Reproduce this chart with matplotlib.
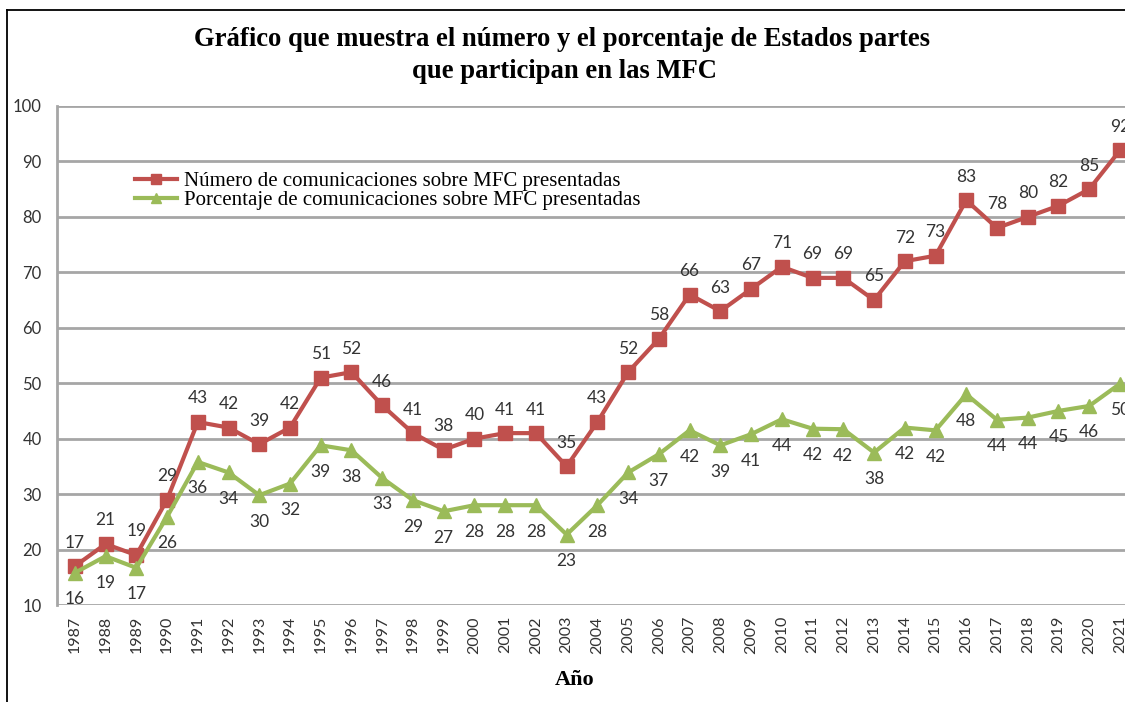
import matplotlib.pyplot as plt
import numpy as np
from matplotlib.lines import Line2D

years = list(range(1987, 2022))
numero = [17, 21, 19, 29, 43, 42, 39, 42, 51, 52, 46, 41, 38, 40, 41, 41, 35, 43, 52, 58,
          66, 63, 67, 71, 69, 69, 65, 72, 73, 83, 78, 80, 82, 85, 92]
porcentaje = [15.8, 18.8, 16.7, 25.9, 35.8, 33.9, 29.8, 31.9, 38.8, 37.9, 32.9, 28.9, 26.9, 28.0,
              28.0, 28.0, 22.7, 28.0, 33.9, 37.2, 41.5, 38.8, 40.8, 43.5, 41.8, 41.7, 37.5, 42.0,
              41.5, 48.0, 43.4, 43.8, 45.0, 45.9, 49.9]
porcentaje_etiq = [16, 19, 17, 26, 36, 34, 30, 32, 39, 38, 33, 29, 27, 28, 28, 28, 23, 28, 34, 37,
                   42, 39, 41, 44, 42, 42, 38, 42, 42, 48, 44, 44, 45, 46, 50]
serie_num = 'Número de comunicaciones sobre MFC presentadas'
serie_pct = 'Porcentaje de comunicaciones sobre MFC presentadas'

red = '#C0504D'
green = '#9BBB59'
serif = 'Liberation Serif'
sans = 'Lato'

fig = plt.figure(figsize=(11.25, 7.02), dpi=100)
ax = fig.add_axes([57 / 1125, 1 - 605 / 702, 1078 / 1125, 499 / 702])

x = np.arange(len(years))
ax.plot(x, numero, color=red, lw=3, marker='s', ms=10, label=serie_num, zorder=3)
ax.plot(x, porcentaje, color=green, lw=3, marker='^', ms=10, label=serie_pct, zorder=3)

for i, v in enumerate(numero):
    ax.annotate(str(v), (x[i], v), xytext=(0, 17), textcoords='offset points',
                ha='center', va='center', fontsize=12.5, family=sans, color='#333333')
for i, v in enumerate(porcentaje):
    ax.annotate(str(porcentaje_etiq[i]), (x[i], v), xytext=(0, -19), textcoords='offset points',
                ha='center', va='center', fontsize=12.5, family=sans, color='#333333')

ax.set_xlim(-0.58, 34.49)
ax.set_ylim(10, 100)
ax.set_yticks(range(10, 101, 10))
ax.set_xticks(x)
ax.set_xticklabels([str(y) for y in years], rotation=90, family=sans, fontsize=11.5, color='#333333')
for t in ax.get_yticklabels():
    t.set_family(sans)
    t.set_fontsize(12)
    t.set_color('#333333')
ax.tick_params(length=0, pad=8)
ax.tick_params(axis='y', pad=11)
ax.yaxis.grid(True, color='#A6A6A6', lw=2)
ax.set_axisbelow(True)
for s in ['top', 'right', 'bottom']:
    ax.spines[s].set_visible(False)
ax.spines['left'].set_color('#A6A6A6')
ax.spines['left'].set_linewidth(2)

leg = ax.legend(loc='upper left', bbox_to_anchor=(70 / 1078, 1 - 57 / 499), frameon=False,
                prop={'family': serif, 'size': 15}, handlelength=2.0, handletextpad=0.35,
                labelspacing=0.0, borderaxespad=0)
for h in leg.legend_handles:
    h.set_markersize(7)

fig.text(562 / 1125, 1 - 40 / 702, 'Gráfico que muestra el número y el porcentaje de Estados partes',
         ha='center', va='center', family=serif, weight='bold', fontsize=19.2)
fig.text(564 / 1125, 1 - 71 / 702, 'que participan en las MFC',
         ha='center', va='center', family=serif, weight='bold', fontsize=19.2)
fig.text(575 / 1125, 1 - 680 / 702, 'Año', ha='center', va='center', family=serif,
         weight='bold', fontsize=16)

# frame lines of the original box
fig.add_artist(Line2D([7 / 1125, 7 / 1125], [0, 1 - 10 / 702], color='black', lw=1.3))
fig.add_artist(Line2D([7 / 1125, 1], [1 - 10 / 702, 1 - 10 / 702], color='black', lw=1.3))

fig.savefig('out.png', dpi=100)
